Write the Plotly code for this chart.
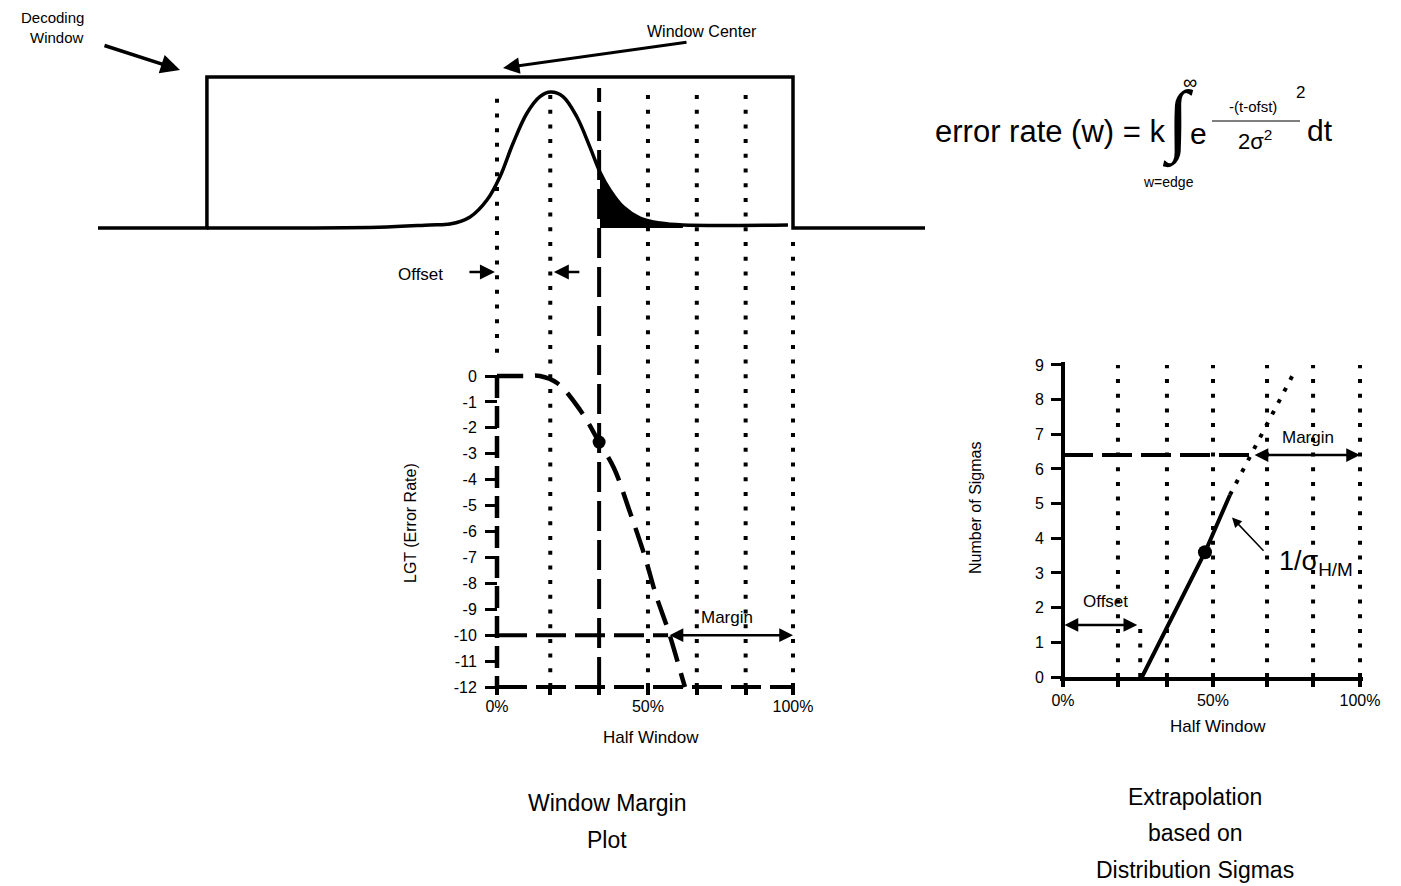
import plotly.graph_objects as go

W, H = 1401, 886
FONT = "Liberation Sans, Arial, sans-serif"

# grid lines, in % of half window
LEFT_GRID = [0, 18, 51, 67.5, 84, 100]
CENTER_X = 34.5
RIGHT_GRID = [18.5, 35, 50.5, 68.7, 84.2, 100]
OFFSET_END = 26

# decoding window (top sketch): x in % of half window, height relative to window
WINDOW_EDGES = [-98, 100]
PULSE_X = [-98, -40, -22.6, -15.9, -9.1, -3.4, 1.0, 5.4, 10.1, 14.5, 18.2, 22.3,
           27.0, 31.4, 34.8, 38.2, 42.6, 48.3, 55.1, 62.8, 98.3]
PULSE_H = [0, 0.005, 0.02, 0.026, 0.073, 0.185, 0.34, 0.56, 0.76, 0.87, 0.90, 0.87,
           0.735, 0.536, 0.37, 0.25, 0.14, 0.066, 0.033, 0.02, 0.02]

# window margin plot
LGT_TICKS = [0, -1, -2, -3, -4, -5, -6, -7, -8, -9, -10, -11, -12]
MARGIN_X = [0, 9.5, 14.5, 20.3, 28, 34.5, 39.5, 44.9, 50, 53.7, 57.8, 62.8, 63.5]
MARGIN_LGT = [0, 0, 0, -0.27, -1.3, -2.55, -3.55, -5.25, -6.98, -8.45, -9.8, -11.73, -12]
MEASURED_X, MEASURED_LGT = 34.5, -2.55
THRESHOLD_LGT, THRESHOLD_X = -10, 57.8
FLOOR_LGT = -12
HALF_TICKS = [0, 51, 100]
HALF_LABELS = ['0%', '50%', '100%']

# extrapolation plot
SIGMA_TICKS = [0, 1, 2, 3, 4, 5, 6, 7, 8, 9]
FIT_X = [26.6, 47.8, 56.2]
FIT_SIG = [0, 3.6, 5.25]
EXTRAP_X = [56.2, 78.1]
EXTRAP_SIG = [5.25, 8.83]
MEASURED_SX, MEASURED_SIG = 47.8, 3.6
TARGET_SIG, TARGET_X = 6.4, 64
OFFSET_SIG = 1.5
RIGHT_TICKS = [0, 50.5, 100]
RIGHT_LABELS = ['0%', '50%', '100%']

DOT = '4px,10.7px'
DASH = '30px,9px'

# pixel layout
X0, PXPER = 497, 2.96          # left plot: 0% at x=497
Y0, PXLGT = 376, 25.917        # left plot: lgt 0 at y=376
GRID_TOP = (Y0 - 88) / PXLGT
WIN_BOTTOM = (Y0 - 236) / PXLGT
RX0, RPX = 1063, 2.97
RY0, RPY = 677, 34.67


def px(x, y):
    return x / W, 1 - y / H


def note(text, x, y, size=16, family=FONT, **kw):
    xx, yy = px(x, y)
    font = dict(family=family, size=size, color='black')
    if 'weight' in kw:
        font['weight'] = kw.pop('weight')
    d = dict(text=text, x=xx, y=yy, xref='paper', yref='paper', showarrow=False,
             font=font, xanchor='center', yanchor='middle')
    d.update(kw)
    return d


def seg(x, y, xa='x', ya='y', width=4, dash='solid', color='black'):
    return go.Scatter(x=x, y=y, xaxis=xa, yaxis=ya, mode='lines',
                      line=dict(color=color, width=width, dash=dash),
                      hoverinfo='skip', showlegend=False)


fig = go.Figure()

# vertical grid through top sketch and left plot
for gx in LEFT_GRID:
    lo = 0.9 if gx == 0 else FLOOR_LGT
    hi = WIN_BOTTOM if gx == 100 else GRID_TOP
    fig.add_trace(seg([gx, gx], [lo, hi], dash=DOT))
fig.add_trace(seg([CENTER_X, CENTER_X], [FLOOR_LGT, GRID_TOP], dash=DASH))

# decoding window
xl = (98 - X0) / PXPER
xr = (925 - X0) / PXPER
fig.add_trace(seg([xl, WINDOW_EDGES[0], WINDOW_EDGES[0], WINDOW_EDGES[1], WINDOW_EDGES[1], xr],
                  [0, 0, 1, 1, 0, 0], ya='y2', width=3.5))
tail = [(x, h) for x, h in zip(PULSE_X, PULSE_H) if CENTER_X <= x <= 63]
fig.add_trace(go.Scatter(x=[t[0] for t in tail], y=[t[1] for t in tail], xaxis='x', yaxis='y2',
                         mode='lines', fill='tozeroy', fillcolor='black',
                         line=dict(color='black', width=1, shape='spline'),
                         hoverinfo='skip', showlegend=False))
fig.add_trace(go.Scatter(x=PULSE_X, y=PULSE_H, xaxis='x', yaxis='y2', mode='lines',
                         line=dict(color='black', width=3.5, shape='spline'),
                         hoverinfo='skip', showlegend=False))

# window margin plot
fig.add_trace(seg([0, 0], [0, FLOOR_LGT], dash='22px,8px', width=4.5))
fig.add_trace(seg([0, THRESHOLD_X], [THRESHOLD_LGT, THRESHOLD_LGT], dash=DASH))
fig.add_trace(seg([0, 100], [FLOOR_LGT, FLOOR_LGT], dash=DASH))
fig.add_trace(go.Scatter(x=MARGIN_X, y=MARGIN_LGT, xaxis='x', yaxis='y', mode='lines',
                         line=dict(color='black', width=4.5, dash='26px,12px', shape='spline'),
                         hoverinfo='skip', showlegend=False))
fig.add_trace(go.Scatter(x=[MEASURED_X], y=[MEASURED_LGT], xaxis='x', yaxis='y', mode='markers',
                         marker=dict(color='black', size=13), hoverinfo='skip', showlegend=False))

# extrapolation plot
for gx in RIGHT_GRID:
    fig.add_trace(seg([gx, gx], [0, 9.0], 'x2', 'y3', dash=DOT))
fig.add_trace(seg([OFFSET_END, OFFSET_END], [0, 1.4], 'x2', 'y3', dash=DOT))
fig.add_trace(seg([0, TARGET_X], [TARGET_SIG, TARGET_SIG], 'x2', 'y3', dash=DASH))
fig.add_trace(seg(FIT_X, FIT_SIG, 'x2', 'y3', width=4))
fig.add_trace(seg(EXTRAP_X, EXTRAP_SIG, 'x2', 'y3', width=4, dash='4px,9px'))
fig.add_trace(go.Scatter(x=[MEASURED_SX], y=[MEASURED_SIG], xaxis='x2', yaxis='y3', mode='markers',
                         marker=dict(color='black', size=14), hoverinfo='skip', showlegend=False))

tickfont = dict(family=FONT, size=16, color='black')
fig.update_layout(
    width=W, height=H, margin=dict(l=0, r=0, t=0, b=0, autoexpand=False),
    paper_bgcolor='white', plot_bgcolor='rgba(0,0,0,0)', showlegend=False,
    xaxis=dict(domain=[98 / W, 925 / W], range=[xl, xr], anchor='y', automargin=False,
               tickvals=HALF_TICKS, ticktext=HALF_LABELS, tickfont=tickfont,
               ticks='inside', ticklen=9, tickwidth=4, tickcolor='black',
               minor=dict(tickvals=[18, CENTER_X, 67.5, 84], ticks='inside', ticklen=9,
                          tickwidth=4, tickcolor='black', showgrid=False),
               showgrid=False, zeroline=False, showline=False),
    yaxis=dict(domain=[1 - (Y0 + 12.3 * PXLGT) / H, 1 - 80 / H], automargin=False,
               range=[-12.3, (Y0 - 80) / PXLGT], anchor='free', position=X0 / W,
               tickvals=LGT_TICKS, ticktext=[str(v) for v in LGT_TICKS], tickfont=tickfont,
               ticks='outside', ticklen=12, tickwidth=3, tickcolor='black',
               ticklabelstandoff=5, showgrid=False, zeroline=False, showline=False),
    yaxis2=dict(domain=[1 - (228 + 0.1 * 151) / H, 1 - (77 - 0.1 * 151) / H], automargin=False,
                range=[-0.1, 1.1], anchor='x', visible=False),
    xaxis2=dict(domain=[(RX0 - RPX) / W, (RX0 + 100 * RPX + RPX) / W], range=[-1, 101],
                anchor='y3', automargin=False,
                tickvals=RIGHT_TICKS, ticktext=RIGHT_LABELS, tickfont=tickfont,
                ticks='outside', ticklen=6, tickwidth=4, tickcolor='black',
                minor=dict(tickvals=RIGHT_GRID[:2] + RIGHT_GRID[3:5], ticks='outside',
                           ticklen=6, tickwidth=4, tickcolor='black', showgrid=False),
                showline=True, linewidth=4, linecolor='black',
                showgrid=False, zeroline=False),
    yaxis3=dict(domain=[1 - RY0 / H, 1 - (RY0 - 9.1 * RPY) / H], range=[0, 9.1],
                anchor='free', position=RX0 / W, automargin=False,
                tickvals=SIGMA_TICKS, tickfont=tickfont,
                ticks='outside', ticklen=10, tickwidth=3, tickcolor='black',
                ticklabelstandoff=4, showline=True, linewidth=4, linecolor='black',
                showgrid=False, zeroline=False),
)

arrow = dict(showarrow=True, arrowcolor='black', arrowhead=2, text='', standoff=0, startstandoff=0)
anns = [
    note('Decoding', 52, 17, 15), note('Window', 57, 37, 15),
    note('Window Center', 702, 31, 16),
    note('Offset', 420, 275, 17),
    note('Margin', 727, 617, 17),
    note('Half Window', 651, 737, 17),
    note('LGT (Error Rate)', 410, 523, 16, textangle=-90),
    note('Window Margin', 607, 803, 23), note('Plot', 607, 840, 23),
    note('Margin', 1308, 437, 17),
    note('Offset', 1105, 601, 17),
    note('1/σ<sub>H/M</sub>', 1277, 563, 27, xanchor='left'),
    note('Half Window', 1218, 726, 17),
    note('Number of Sigmas', 975, 508, 16, textangle=-90),
    note('Extrapolation', 1195, 797, 23), note('based on', 1195, 833, 23),
    note('Distribution Sigmas', 1195, 870, 23),
    # formula
    note('error rate (w) = k', 933, 131, 31, xanchor='left'),
    note('∫', 1178, 120, 80, family='DejaVu Sans ExtraLight, DejaVu Sans', weight=200),
    note('∞', 1190, 82, 20),
    note('e', 1198, 133, 30),
    note('-(t-ofst)', 1253, 107, 15),
    note('2', 1300, 92, 17),
    note('2σ<sup>2</sup>', 1255, 140, 22),
    note('dt', 1320, 130, 30),
    note('w=edge', 1168, 182, 14),
]
# paper-space pointer arrows
for (hx, hy, tx, ty, wd) in [(180, 70, 103, 45, 3.5), (503, 68, 688, 42, 3)]:
    x, y = px(hx, hy)
    anns.append(dict(arrow, x=x, y=y, xref='paper', yref='paper', ax=tx - hx, ay=ty - hy,
                     arrowwidth=wd, arrowsize=1.1))
# offset pointers in the top sketch
oy = (Y0 - 272) / PXLGT
anns.append(dict(arrow, x=-0.7, y=oy, xref='x', yref='y', ax=-27, ay=0, arrowwidth=2.5, arrowsize=1.2))
anns.append(dict(arrow, x=PULSE_X[10] + 1, y=oy, xref='x', yref='y', ax=27, ay=0, arrowwidth=2.5, arrowsize=1.2))
# margin arrows
anns.append(dict(arrow, x=100, y=THRESHOLD_LGT, xref='x', yref='y', ax=THRESHOLD_X, ay=THRESHOLD_LGT,
                 axref='x', ayref='y', arrowside='end+start', arrowwidth=2.5, arrowsize=1.1))
anns.append(dict(arrow, x=100, y=TARGET_SIG, xref='x2', yref='y3', ax=TARGET_X, ay=TARGET_SIG,
                 axref='x2', ayref='y3', arrowside='end+start', arrowwidth=2.5, arrowsize=1.1))
anns.append(dict(arrow, x=OFFSET_END - 1, y=OFFSET_SIG, xref='x2', yref='y3', ax=0, ay=OFFSET_SIG,
                 axref='x2', ayref='y3', arrowside='end+start', arrowwidth=2.5, arrowsize=1.1))
anns.append(dict(arrow, x=56.9, y=4.6, xref='x2', yref='y3', ax=68, ay=3.6,
                 axref='x2', ayref='y3', arrowwidth=1.5, arrowsize=1.3))
fig.update_layout(annotations=anns)

fx0, fy = px(1212, 121)
fx1, _ = px(1300, 121)
fig.add_shape(type='line', xref='paper', yref='paper', x0=fx0, x1=fx1, y0=fy, y1=fy,
              line=dict(color='black', width=1.2))

fig.write_html("out.html", config={'displayModeBar': False},
               post_script="document.body.style.margin='0';")
